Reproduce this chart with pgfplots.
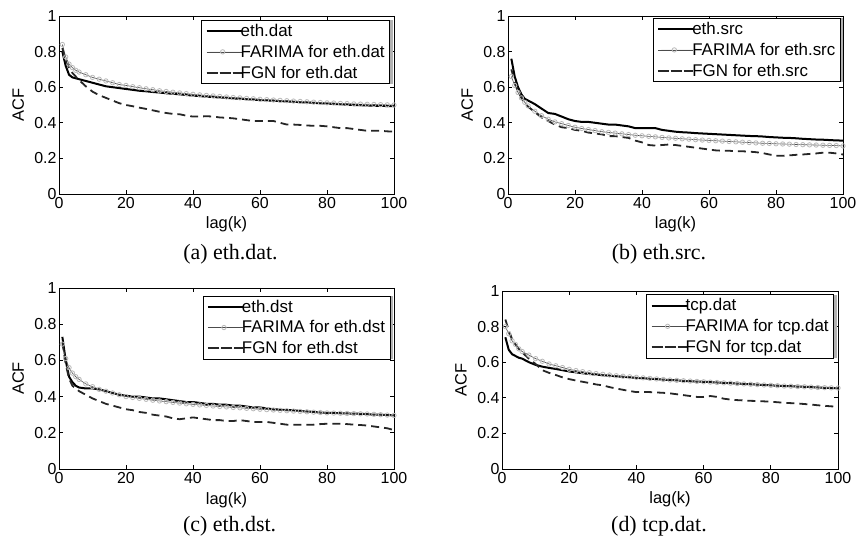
\documentclass[border=0pt]{standalone}
\usepackage{fontspec}
\setmainfont{Liberation Sans}
\newfontfamily\capfont{Liberation Serif}
\usepackage{pgfplots}
\pgfplotsset{compat=1.18}
\usepackage{pgfplotstable}
\usetikzlibrary{shadows}

% ACF of the traces and of the two fitted models, lags 1..100
\pgfplotstableread{
lag real farima fgn
1 0.80 0.84 0.82
2 0.72 0.77 0.75
3 0.67 0.73 0.71
4 0.655 0.71 0.68
5 0.65 0.695 0.66
6 0.645 0.685 0.64
8 0.635 0.67 0.605
10 0.625 0.655 0.575
12 0.615 0.645 0.555
14 0.605 0.635 0.54
16 0.60 0.625 0.525
18 0.595 0.615 0.51
20 0.59 0.61 0.50
22 0.585 0.603 0.493
24 0.58 0.597 0.485
26 0.577 0.591 0.478
28 0.573 0.586 0.47
30 0.57 0.58 0.462
32 0.566 0.576 0.455
34 0.563 0.572 0.45
36 0.56 0.568 0.448
38 0.556 0.564 0.44
40 0.553 0.56 0.435
42 0.55 0.557 0.435
44 0.547 0.554 0.437
46 0.545 0.551 0.435
48 0.542 0.548 0.43
50 0.54 0.545 0.428
52 0.537 0.542 0.425
54 0.535 0.54 0.42
56 0.533 0.537 0.415
58 0.53 0.535 0.41
60 0.528 0.532 0.41
62 0.526 0.53 0.41
64 0.524 0.528 0.41
66 0.522 0.526 0.40
68 0.52 0.524 0.39
70 0.518 0.522 0.39
72 0.516 0.52 0.388
74 0.514 0.518 0.385
76 0.512 0.516 0.383
78 0.51 0.514 0.383
80 0.508 0.512 0.38
82 0.506 0.511 0.375
84 0.504 0.509 0.37
86 0.502 0.508 0.37
88 0.50 0.506 0.365
90 0.499 0.505 0.36
92 0.497 0.504 0.355
94 0.496 0.503 0.355
96 0.495 0.502 0.355
98 0.494 0.501 0.352
100 0.493 0.50 0.35
}\ethdat

\pgfplotstableread{
lag real farima fgn
1 0.76 0.66 0.70
2 0.66 0.61 0.63
3 0.60 0.57 0.58
4 0.56 0.54 0.54
5 0.535 0.515 0.51
6 0.525 0.495 0.49
8 0.505 0.465 0.46
10 0.48 0.44 0.43
12 0.455 0.42 0.41
14 0.45 0.405 0.39
16 0.435 0.395 0.375
18 0.42 0.385 0.37
20 0.41 0.375 0.36
22 0.405 0.368 0.355
24 0.405 0.362 0.345
26 0.40 0.356 0.34
28 0.395 0.35 0.335
30 0.39 0.346 0.325
32 0.39 0.342 0.325
34 0.385 0.338 0.32
36 0.38 0.334 0.315
38 0.37 0.33 0.30
40 0.37 0.327 0.29
42 0.37 0.324 0.275
44 0.37 0.321 0.272
46 0.36 0.318 0.275
48 0.355 0.315 0.278
50 0.35 0.313 0.275
52 0.347 0.31 0.27
54 0.345 0.308 0.265
56 0.342 0.305 0.26
58 0.34 0.303 0.255
60 0.338 0.301 0.25
62 0.336 0.299 0.245
64 0.334 0.297 0.243
66 0.332 0.295 0.243
68 0.33 0.293 0.24
70 0.328 0.291 0.24
72 0.326 0.289 0.238
74 0.325 0.287 0.235
76 0.323 0.285 0.23
78 0.32 0.284 0.222
80 0.318 0.282 0.215
82 0.316 0.281 0.215
84 0.315 0.28 0.217
86 0.313 0.278 0.22
88 0.31 0.277 0.222
90 0.308 0.276 0.225
92 0.306 0.275 0.228
94 0.305 0.274 0.232
96 0.303 0.273 0.232
98 0.301 0.272 0.228
100 0.30 0.27 0.222
}\ethsrc

\pgfplotstableread{
lag real farima fgn
1 0.73 0.69 0.70
2 0.60 0.61 0.58
3 0.51 0.56 0.50
4 0.48 0.53 0.46
5 0.46 0.51 0.445
6 0.45 0.495 0.43
8 0.445 0.47 0.41
10 0.445 0.455 0.39
12 0.44 0.44 0.375
14 0.43 0.43 0.36
16 0.42 0.42 0.35
18 0.41 0.41 0.34
20 0.405 0.40 0.33
22 0.40 0.395 0.325
24 0.40 0.39 0.315
26 0.395 0.385 0.31
28 0.39 0.38 0.30
30 0.39 0.376 0.295
32 0.385 0.372 0.29
34 0.38 0.368 0.28
36 0.375 0.364 0.275
38 0.37 0.36 0.28
40 0.37 0.357 0.285
42 0.365 0.354 0.28
44 0.36 0.351 0.275
46 0.36 0.348 0.27
48 0.355 0.345 0.27
50 0.355 0.343 0.265
52 0.35 0.34 0.265
54 0.35 0.338 0.27
56 0.345 0.335 0.265
58 0.34 0.333 0.26
60 0.34 0.33 0.26
62 0.335 0.328 0.26
64 0.33 0.326 0.255
66 0.328 0.324 0.25
68 0.325 0.322 0.245
70 0.325 0.32 0.245
72 0.32 0.318 0.245
74 0.318 0.316 0.245
76 0.315 0.314 0.245
78 0.312 0.312 0.248
80 0.31 0.31 0.25
82 0.31 0.309 0.25
84 0.308 0.308 0.25
86 0.307 0.307 0.248
88 0.306 0.306 0.245
90 0.305 0.305 0.243
92 0.303 0.304 0.24
94 0.30 0.302 0.235
96 0.30 0.30 0.23
98 0.298 0.298 0.225
100 0.296 0.296 0.215
}\ethdst

\pgfplotstableread{
lag real farima fgn
1 0.74 0.80 0.84
2 0.67 0.76 0.78
3 0.645 0.72 0.73
4 0.635 0.70 0.70
5 0.625 0.675 0.675
6 0.62 0.66 0.655
8 0.60 0.64 0.62
10 0.585 0.62 0.59
12 0.575 0.605 0.555
14 0.568 0.59 0.54
16 0.562 0.58 0.528
18 0.555 0.57 0.515
20 0.548 0.56 0.505
22 0.543 0.553 0.497
24 0.538 0.547 0.49
26 0.534 0.541 0.483
28 0.53 0.536 0.475
30 0.527 0.532 0.47
32 0.524 0.528 0.46
34 0.521 0.524 0.452
36 0.518 0.521 0.445
38 0.515 0.518 0.438
40 0.512 0.515 0.432
42 0.51 0.512 0.433
44 0.507 0.509 0.432
46 0.505 0.506 0.43
48 0.502 0.503 0.428
50 0.50 0.50 0.425
52 0.498 0.498 0.42
54 0.495 0.496 0.415
56 0.493 0.494 0.41
58 0.491 0.492 0.405
60 0.49 0.49 0.405
62 0.488 0.488 0.41
64 0.486 0.486 0.405
66 0.484 0.484 0.395
68 0.482 0.482 0.39
70 0.48 0.48 0.387
72 0.478 0.478 0.385
74 0.476 0.476 0.383
76 0.474 0.474 0.382
78 0.472 0.472 0.38
80 0.47 0.47 0.378
82 0.468 0.468 0.375
84 0.466 0.466 0.372
86 0.465 0.465 0.37
88 0.463 0.463 0.368
90 0.462 0.462 0.365
92 0.46 0.46 0.362
94 0.458 0.458 0.358
96 0.456 0.457 0.355
98 0.455 0.456 0.352
100 0.453 0.455 0.35
}\tcpdat

\pgfplotsset{
  acf/.style={
    scale only axis,
    xmin=0, xmax=100, ymin=0, ymax=1,
    xtick={0,20,40,60,80,100},
    ytick={0,0.2,0.4,0.6,0.8,1},
    tick align=inside,
    major tick length=4bp,
    axis line style={line width=0.7bp},
    every tick/.style={black, line width=0.7bp},
    /pgf/number format/assume math mode=true,
    tick label style={font=\fontsize{16}{18}\selectfont},
    yticklabel style={xshift=1bp},
    label style={font=\fontsize{16.5}{19}\selectfont},
    xlabel={lag(k)}, ylabel={ACF},
    xlabel style={at={(axis description cs:0.5,-0.17)}, anchor=center},
    ylabel style={at={(axis description cs:-0.122,0.5)}, anchor=center},
    legend cell align=left,
    legend style={anchor=north east, draw=black, fill=white, line width=0.6bp,
      font=\fontsize{17}{19}\selectfont, inner xsep=4bp, inner ysep=2.5bp,
      row sep=4bp, nodes={inner xsep=1bp, inner ysep=1.5bp},
      general shadow={fill=gray!60, shadow xshift=3bp, shadow yshift=0bp}},
    legend image code/.code={
      \draw[mark repeat=2,mark phase=2,#1] plot coordinates {(0bp,0bp) (16bp,0bp) (32bp,0bp)};},
  },
  realline/.style={black, line width=2bp},
  farline/.style={black!70, line width=0.6bp, mark=o, mark size=2.2bp,
    mark options={draw=gray!55, line width=0.8bp, solid}},
  fgnline/.style={black!85, line width=1.8bp, dash pattern=on 8bp off 5bp},
}

\begin{document}
\begin{tikzpicture}
\path[use as bounding box] (0,0) rectangle (856bp,545bp);

% (a)
\begin{axis}[acf, at={(59bp,351bp)}, anchor=south west, width=335bp, height=178bp,
  legend style={at={(0.988,0.978)}}]
\addplot[realline] table[x=lag, y=real] {\ethdat};
\addplot[farline] table[x=lag, y=farima] {\ethdat};
\addplot[fgnline] table[x=lag, y=fgn] {\ethdat};
\legend{eth.dat, FARIMA for eth.dat, FGN for eth.dat}
\end{axis}

% (b)
\begin{axis}[acf, at={(508bp,351bp)}, anchor=south west, width=335bp, height=178bp,
  legend style={at={(0.993,0.989)}}]
\addplot[realline] table[x=lag, y=real] {\ethsrc};
\addplot[farline] table[x=lag, y=farima] {\ethsrc};
\addplot[fgnline] table[x=lag, y=fgn] {\ethsrc};
\legend{eth.src, FARIMA for eth.src, FGN for eth.src}
\end{axis}

% (c)
\begin{axis}[acf, at={(59bp,76bp)}, anchor=south west, width=335bp, height=181bp,
  legend style={at={(0.989,0.958)}}]
\addplot[realline] table[x=lag, y=real] {\ethdst};
\addplot[farline] table[x=lag, y=farima] {\ethdst};
\addplot[fgnline] table[x=lag, y=fgn] {\ethdst};
\legend{eth.dst, FARIMA for eth.dst, FGN for eth.dst}
\end{axis}

% (d)
\begin{axis}[acf, at={(502bp,76bp)}, anchor=south west, width=336bp, height=178bp,
  legend style={at={(0.988,0.981)}}]
\addplot[realline] table[x=lag, y=real] {\tcpdat};
\addplot[farline] table[x=lag, y=farima] {\tcpdat};
\addplot[fgnline] table[x=lag, y=fgn] {\tcpdat};
\legend{tcp.dat, FARIMA for tcp.dat, FGN for tcp.dat}
\end{axis}

\node[font=\capfont\fontsize{22}{25}\selectfont] at (230.5bp,291bp) {(a) eth.dat.};
\node[font=\capfont\fontsize{22}{25}\selectfont] at (659bp,291bp) {(b) eth.src.};
\node[font=\capfont\fontsize{22}{25}\selectfont] at (229.6bp,19bp) {(c) eth.dst.};
\node[font=\capfont\fontsize{22}{25}\selectfont] at (659bp,19bp) {(d) tcp.dat.};
\end{tikzpicture}
\end{document}
